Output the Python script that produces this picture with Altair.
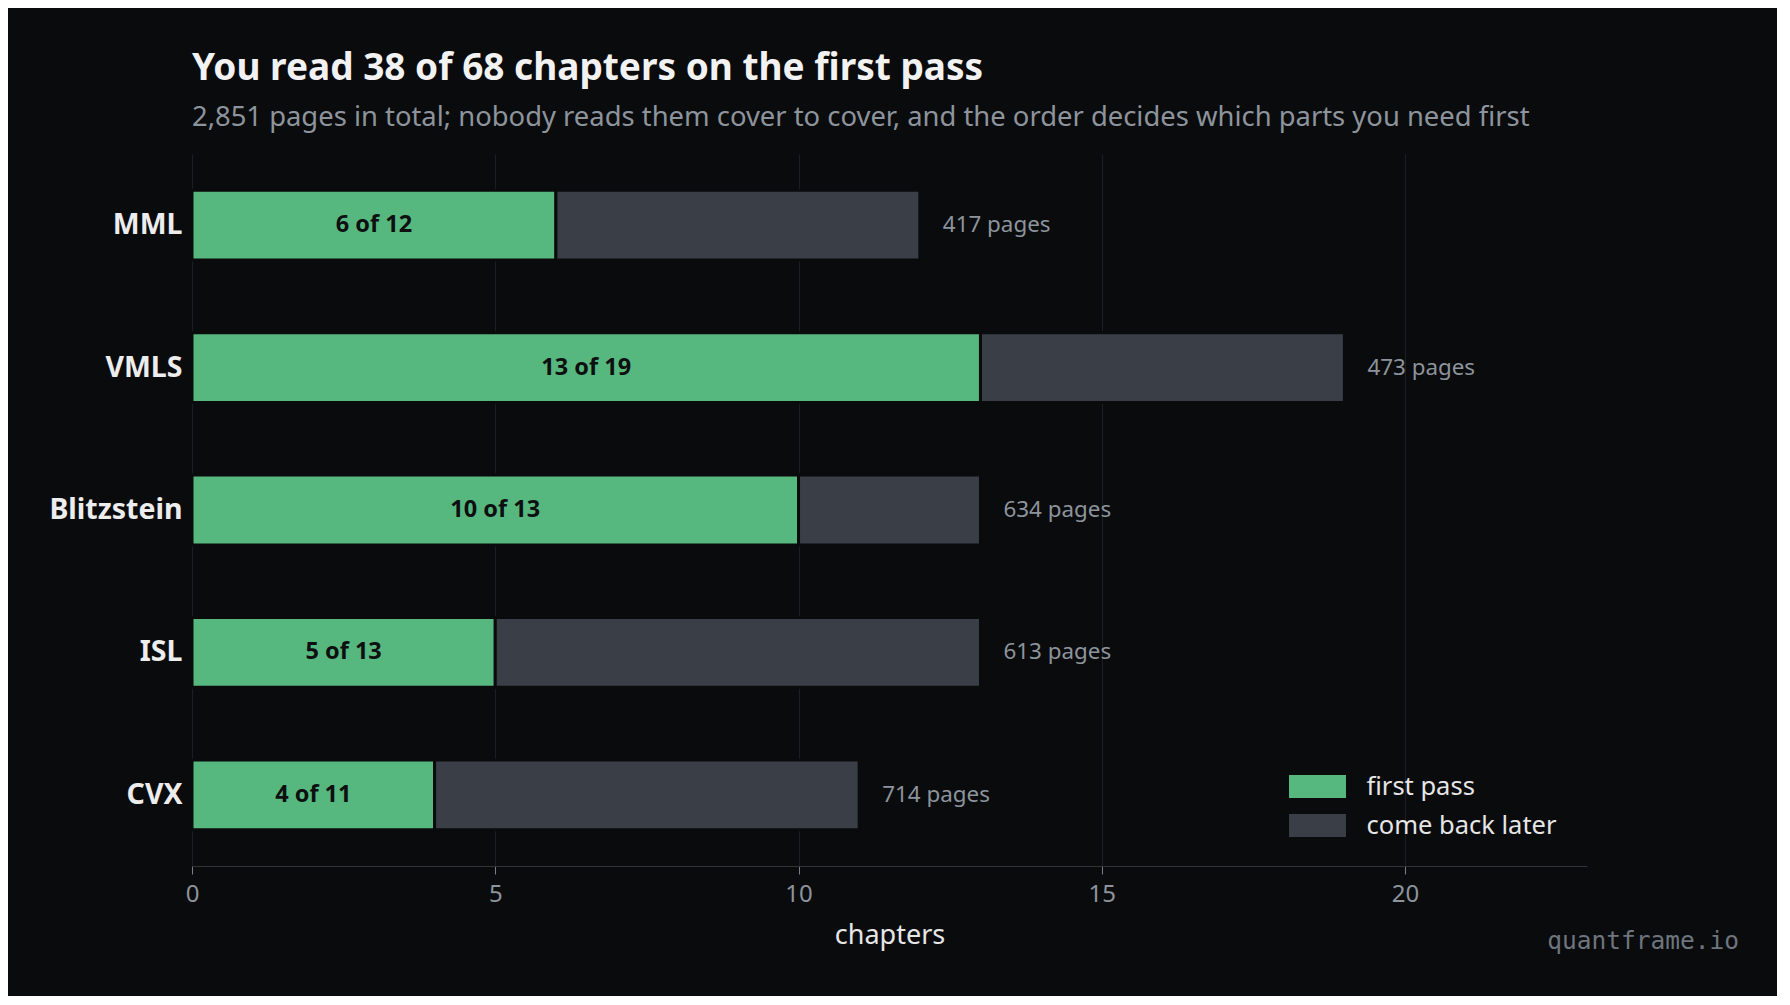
import altair as alt
import pandas as pd

books = ["MML", "VMLS", "Blitzstein", "ISL", "CVX"]
first_pass = [6, 13, 10, 5, 4]
total_chapters = [12, 19, 13, 13, 11]
pages = [417, 473, 634, 613, 714]
segments = ["first pass", "come back later"]
x_ticks = [0, 5, 10, 15, 20]

BG = "#0a0b0d"
GREEN = "#57b87f"
GRAY = "#3a3f47"
FONT = "Noto Sans"

rows = []
for b, f, t in zip(books, first_pass, total_chapters):
    rows.append({"book": b, "segment": segments[0], "start": 0, "end": f})
    rows.append({"book": b, "segment": segments[1], "start": f, "end": t})
seg = pd.DataFrame(rows)
info = pd.DataFrame({"book": books, "first": first_pass, "total": total_chapters, "pages": pages})
mark_df = pd.DataFrame({"t": ["quantframe.io"]})

W, H = 1395, 712

xscale = alt.Scale(domain=[0, 23], nice=False)
yenc = alt.Y("book:N", sort=books,
             scale=alt.Scale(paddingInner=0.51, paddingOuter=0.255),
             axis=alt.Axis(title=None, domain=False, ticks=False, grid=False,
                           labelFontSize=28.5, labelFontWeight="bold", labelColor="#ededed",
                           labelFont=FONT, labelPadding=10))

bars = alt.Chart(seg).mark_bar(stroke=BG, strokeWidth=3).encode(
    x=alt.X("start:Q", scale=xscale,
            axis=alt.Axis(title="chapters", values=x_ticks, format="d", grid=True, gridColor="#1b1e23",
                          domainColor="#2e333a", tickColor="#7a8088", tickSize=8,
                          labelColor="#8d949c", labelFontSize=24, labelFont=FONT, labelPadding=8,
                          labelFlush=False,
                          titleColor="#e6e6e6", titleFontSize=27, titleFont=FONT,
                          titleFontWeight="normal", titlePadding=16)),
    x2="end:Q",
    y=yenc,
    color=alt.Color("segment:N", scale=alt.Scale(domain=segments, range=[GREEN, GRAY]),
                    legend=alt.Legend(title=None, orient="none", legendX=1111, legendY=618,
                                      symbolType="M-2,-0.8L2,-0.8L2,0.8L-2,0.8Z",
                                      symbolSize=812, symbolStrokeWidth=0,
                                      labelFontSize=25.5, labelColor="#e6e6e6", labelFont=FONT,
                                      labelLimit=0, rowPadding=11, padding=0, labelOffset=34.5)),
)

inner = alt.Chart(info).transform_calculate(
    mid="datum.first / 2",
    lab="datum.first + ' of ' + datum.total",
).mark_text(font=FONT, fontSize=23.5, fontWeight="bold", color="#0d0f10").encode(
    x=alt.X("mid:Q", scale=xscale),
    y=alt.Y("book:N", sort=books),
    text="lab:N",
)

pagelab = alt.Chart(info).transform_calculate(
    lab="datum.pages + ' pages'",
).mark_text(font=FONT, fontSize=22.4, color="#8d949c", align="left", dx=23).encode(
    x=alt.X("total:Q", scale=xscale),
    y=alt.Y("book:N", sort=books),
    text="lab:N",
)

mark = alt.Chart(mark_df).mark_text(font="DejaVu Sans Mono", fontSize=24.5, color="#6e757d",
                                    align="right", baseline="middle").encode(
    text="t:N", x=alt.value(1547), y=alt.value(788),
)

chart = alt.layer(bars, inner, pagelab, mark).properties(
    width=W, height=H,
    title=alt.TitleParams(
        text="You read 38 of 68 chapters on the first pass",
        subtitle="2,851 pages in total; nobody reads them cover to cover, and the order decides which parts you need first",
        anchor="start", frame="group", font=FONT, fontSize=37, fontWeight="bold", color="#f2f2f2",
        subtitleFont=FONT, subtitleFontSize=27.4, subtitleColor="#8d949c", subtitlePadding=16, offset=22,
    ),
    autosize=alt.AutoSizeParams(type="none"),
    padding={"left": 184, "top": 146, "right": 190, "bottom": 130},
).configure(background=BG).configure_view(stroke=None)

chart.save("out.html", embed_options={"renderer": "svg", "actions": False})
